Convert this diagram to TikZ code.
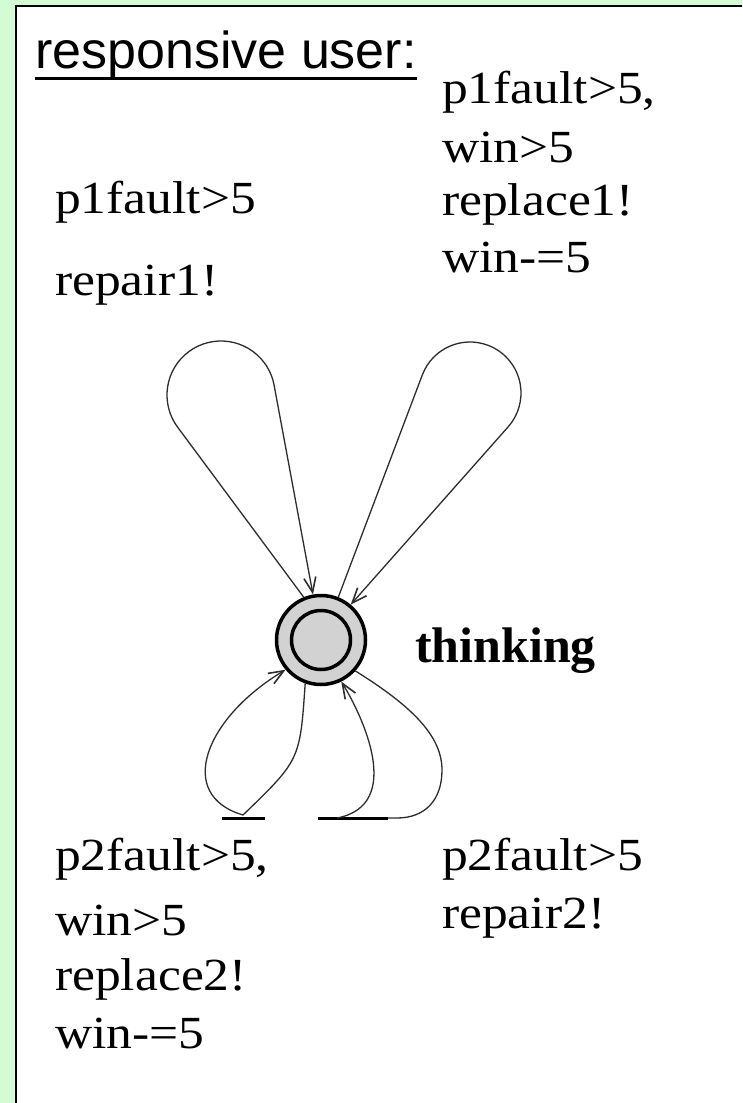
\documentclass[tikz,border=0pt]{standalone}
\usepackage{fontspec}
\setmainfont{Liberation Serif}
\newfontfamily\lblfont[FakeStretch=1.12]{Liberation Serif}
\newfontfamily\titlefont{Liberation Sans}
\usetikzlibrary{arrows.meta,calc}
\definecolor{bggreen}{RGB}{212,252,212}
\definecolor{stategray}{RGB}{210,210,210}
\definecolor{edgegray}{RGB}{45,45,45}
\begin{document}
\begin{tikzpicture}[x=1pt,y=-1pt,
  lbl/.style={anchor=base west, inner sep=0pt, font=\lblfont\fontsize{46}{50}\selectfont},
  namelbl/.style={anchor=base west, inner sep=0pt, font=\fontsize{50}{54}\selectfont\bfseries},
  titlelbl/.style={anchor=base west, inner sep=0pt, font=\titlefont\fontsize{52}{56}\selectfont},
  edge/.style={draw=edgegray, line width=1.3pt},
  arr/.style={-{Straight Barb[length=15pt,width=12pt,line width=1.6pt]}},
  bar/.style={draw=black, line width=3pt},
  stateouter/.style={circle, draw=black, line width=3.5pt, fill=stategray, minimum size=89pt, inner sep=0pt},
  stateinner/.style={circle, draw=black, line width=3.5pt, fill=stategray, minimum size=59pt, inner sep=0pt}]
\clip (0,0) rectangle (742,1103);
\fill[bggreen] (0,0) rectangle (742,1103);
\draw[line width=2.5pt, fill=white] (16,6) rectangle (800,1200);

% title
\node[titlelbl] (title) at (35,68) {responsive user:};
\draw[line width=3pt] ($(title.base west)+(0,10)$) -- ($(title.base east)+(0,10)$);

% state
\node[stateouter] (s) at (321,640) {};
\node[stateinner] (si) at (s.center) {};
\node[namelbl] (name) at (415,662) {thinking};

% top-left loop
\coordinate (tlc) at (221,395);
\draw[edge, arr] (s.112) -- ($(tlc)+(143.4:54)$) arc[start angle=143.4, end angle=349.5, radius=54] -- (s.100);

% top-right loop
\coordinate (trc) at (470,393);
\draw[edge, arr] (s.68) -- ($(trc)+(200.8:51)$) arc[start angle=200.8, end angle=401.4, radius=51] -- (s.50);

% bottom-left loop
\coordinate (blx) at (243,815);
\draw[edge, arr] (s.250) .. controls (300,760) .. (blx) .. controls (175,795) and (205,718) .. (s.220);
\coordinate (blb1) at (222,818);
\coordinate (blb2) at (265,818);
\draw[bar] (blb1) -- (blb2);

% bottom-right loop
\coordinate (brm) at (442,770);
\coordinate (brr) at (397,818);
\coordinate (brl) at (318,818);
\coordinate (brk) at (388,818);
\coordinate (brj) at (337,818);
\draw[edge] (s.318) .. controls (410,705) and (442,735) .. (brm) .. controls (442,800) and (425,818) .. (brr) -- (brl);
\draw[bar] (brl) -- (brk);
\draw[edge, arr] (brj) .. controls (405,805) and (362,715) .. (s.296);

% labels
\node[lbl] (t1a) at (442,103) {p1fault>5,};
\node[lbl] (t1b) at (442,162) {win>5};
\node[lbl] (t1c) at (442,215) {replace1!};
\node[lbl] (t1d) at (442,272) {win-=5};
\node[lbl] (t2a) at (55,213) {p1fault>5};
\node[lbl] (t2b) at (55,295) {repair1!};
\node[lbl] (t3a) at (55,870) {p2fault>5,};
\node[lbl] (t3b) at (55,935) {win>5};
\node[lbl] (t3c) at (55,990) {replace2!};
\node[lbl] (t3d) at (55,1048) {win-=5};
\node[lbl] (t4a) at (442,870) {p2fault>5};
\node[lbl] (t4b) at (442,928) {repair2!};
\end{tikzpicture}
\end{document}
